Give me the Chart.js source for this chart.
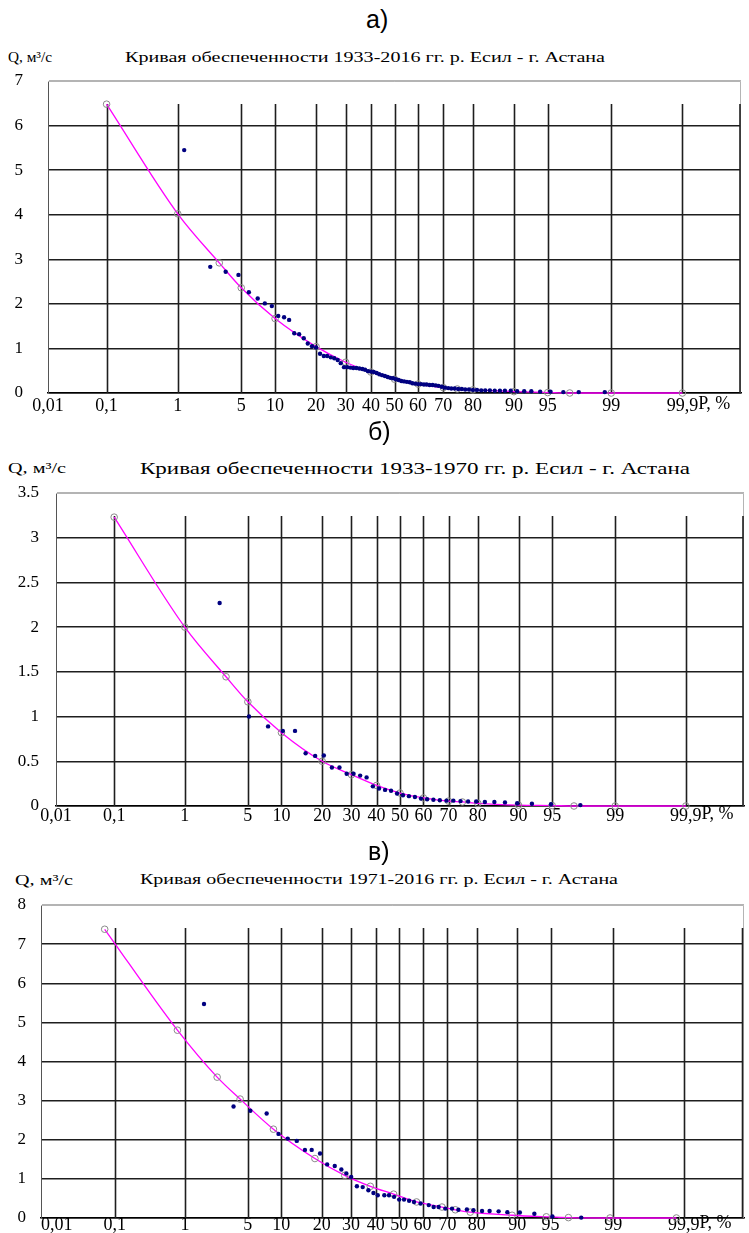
<!DOCTYPE html>
<html lang="ru">
<head>
<meta charset="UTF-8">
<title>Кривые обеспеченности р. Есил - г. Астана</title>
<script src="https://cdn.jsdelivr.net/npm/chart.js"></script>
<style>
  body {
    margin: 0;
    background: #fff;
    width: 749px;
    height: 1233px;
    position: relative;
    overflow: hidden;
    font-family: "Liberation Serif", "Times New Roman", serif;
    color: #000;
  }
  .box { position: absolute; left: 0; width: 749px; }
  .box canvas { display: block; }
  .lbl { position: absolute; white-space: nowrap; transform-origin: left center; line-height: 1; }
  .part {
    position: absolute;
    font-family: "Liberation Sans Narrow", "Liberation Sans", Arial, sans-serif;
    font-size: 25px;
    line-height: 1;
  }
</style>
</head>
<body>
  <div class="part" style="left:366px; top:7px;">а)</div>
  <div class="lbl" data-w="44" style="left:8px; top:51px; font-size:14px;">Q, м³/с</div>
  <div class="lbl" data-w="480" style="left:125px; top:51px; font-size:14px;">Кривая обеспеченности 1933-2016 гг. р. Есил - г. Астана</div>
  <div class="box" style="top:60px; height:360px;"><canvas id="chartA" width="749" height="360"></canvas></div>

  <div class="part" style="left:368px; top:419px;">б)</div>
  <div class="lbl" data-w="58" style="left:8px; top:461px; font-size:15px;">Q, м³/с</div>
  <div class="lbl" data-w="550" style="left:140px; top:460px; font-size:17px;">Кривая обеспеченности 1933-1970 гг. р. Есил - г. Астана</div>
  <div class="box" style="top:480px; height:350px;"><canvas id="chartB" width="749" height="350"></canvas></div>

  <div class="part" style="left:368px; top:839px;">в)</div>
  <div class="lbl" data-w="58" style="left:15px; top:873px; font-size:15px;">Q, м³/с</div>
  <div class="lbl" data-w="478" style="left:140px; top:872px; font-size:15px;">Кривая обеспеченности 1971-2016 гг. р. Есил - г. Астана</div>
  <div class="box" style="top:893px; height:340px;"><canvas id="chartC" width="749" height="340"></canvas></div>

<script>
  // --- шкала клетчатки вероятностей ---
  const tickP = [0.01, 0.1, 1, 5, 10, 20, 30, 40, 50, 60, 70, 80, 90, 95, 99, 99.9];
  const tickText = ['0,01', '0,1', '1', '5', '10', '20', '30', '40', '50', '60', '70', '80', '90', '95', '99', '99,9'];
  const gridP = [0.1, 1, 5, 10, 20, 30, 40, 50, 60, 70, 80, 90, 95, 99, 99.9, 99.99];

  // --- а) 1933-2016 ---
  const obsPA = [1.2, 2.4, 3.5, 4.7, 5.9, 7.1, 8.2, 9.4, 10.6, 11.8, 12.9, 14.1, 15.3, 16.5, 17.6, 18.8, 20.0, 21.2, 22.4, 23.5,
    24.7, 25.9, 27.1, 28.2, 29.4, 30.6, 31.8, 32.9, 34.1, 35.3, 36.5, 37.6, 38.8, 40.0, 41.2, 42.4, 43.5, 44.7, 45.9, 47.1,
    48.2, 49.4, 50.6, 51.8, 52.9, 54.1, 55.3, 56.5, 57.6, 58.8, 60.0, 61.2, 62.4, 63.5, 64.7, 65.9, 67.1, 68.2, 69.4, 70.6,
    71.8, 72.9, 74.1, 75.3, 76.5, 77.6, 78.8, 80.0, 81.2, 82.4, 83.5, 84.7, 85.9, 87.1, 88.2, 89.4, 90.6, 91.8, 92.9, 94.1,
    95.3, 96.5, 97.6, 98.8];
  const obsQA = [5.45, 2.83, 2.72, 2.65, 2.26, 2.12, 2.01, 1.95, 1.73, 1.70, 1.64, 1.34, 1.32, 1.23, 1.11, 1.05, 1.02, 0.88, 0.83, 0.83,
    0.80, 0.78, 0.74, 0.67, 0.58, 0.58, 0.57, 0.56, 0.56, 0.55, 0.54, 0.52, 0.49, 0.48, 0.47, 0.45, 0.42, 0.40, 0.38, 0.36,
    0.34, 0.33, 0.31, 0.29, 0.27, 0.26, 0.25, 0.24, 0.22, 0.21, 0.20, 0.20, 0.19, 0.19, 0.18, 0.18, 0.17, 0.16, 0.14, 0.12,
    0.11, 0.10, 0.10, 0.09, 0.09, 0.08, 0.08, 0.07, 0.07, 0.06, 0.06, 0.06, 0.05, 0.05, 0.05, 0.05, 0.04, 0.04, 0.04, 0.03,
    0.03, 0.02, 0.02, 0.02];
  const fitPA = [0.1, 1, 3, 5, 10, 20, 30, 40, 50, 60, 70, 75, 80, 90, 95, 97, 99, 99.9];
  const fitQA = [6.48, 4.02, 2.92, 2.36, 1.67, 1.04, 0.69, 0.47, 0.31, 0.20, 0.12, 0.09, 0.07, 0.03, 0.01, 0.0, 0.0, 0.0];

  // --- б) 1933-1970 ---
  const obsPB = [2.56, 5.13, 7.69, 10.26, 12.82, 15.38, 17.95, 20.51, 23.08, 25.64, 28.21, 30.77, 33.33, 35.9, 38.46, 41.03,
    43.59, 46.15, 48.72, 51.28, 53.85, 56.41, 58.97, 61.54, 64.1, 66.67, 69.23, 71.79, 74.36, 76.92, 79.49, 82.05, 84.62,
    87.18, 89.74, 92.31, 94.87, 97.44];
  const obsQB = [2.27, 1.0, 0.89, 0.84, 0.84, 0.59, 0.56, 0.565, 0.43, 0.43, 0.36, 0.36, 0.34, 0.32, 0.22, 0.195,
    0.18, 0.17, 0.14, 0.12, 0.11, 0.10, 0.083, 0.075, 0.07, 0.065, 0.06, 0.06, 0.055, 0.05, 0.05, 0.045, 0.045,
    0.04, 0.03, 0.025, 0.02, 0.01];
  const fitPB = [0.1, 1, 3, 5, 10, 20, 30, 40, 50, 60, 70, 75, 80, 90, 95, 97, 99, 99.9];
  const fitQB = [3.23, 2.0, 1.445, 1.165, 0.82, 0.50, 0.35, 0.23, 0.145, 0.09, 0.055, 0.045, 0.03, 0.01, 0.005, 0.0, 0.0, 0.0];

  // --- в) 1971-2016 ---
  const obsPC = [1.7, 3.6, 5.3, 7.5, 9.5, 11.3, 13.3, 15.3, 17.1, 19.5, 21.7, 24.2, 26.5, 28.3, 30.1, 32.3, 34.6, 36.9, 39.0,
    40.8, 43.6, 45.6, 47.8, 50.0, 52.1, 54.3, 56.4, 59.2, 62.6, 64.6, 66.6, 69.2, 71.7, 74.0, 76.9, 79.0, 81.6, 83.7, 86.0,
    88.0, 90.5, 92.9, 95.2, 97.6];
  const obsQC = [5.47, 2.85, 2.74, 2.67, 2.15, 2.03, 1.97, 1.74, 1.74, 1.65, 1.37, 1.33, 1.24, 1.14, 1.05, 0.81, 0.79, 0.71, 0.64,
    0.58, 0.58, 0.58, 0.54, 0.47, 0.47, 0.44, 0.41, 0.37, 0.33, 0.28, 0.28, 0.24, 0.24, 0.21, 0.22, 0.20, 0.18, 0.18, 0.17,
    0.15, 0.14, 0.11, 0.04, 0.01];
  const fitPC = [0.069, 0.8, 2.4, 4.2, 8.6, 18, 27.7, 37.7, 47.6, 57.5, 67.9, 72.9, 78, 89, 94.5, 96.7, 98.9, 99.87];
  const fitQC = [7.38, 4.80, 3.60, 3.04, 2.27, 1.52, 1.09, 0.81, 0.61, 0.41, 0.28, 0.21, 0.15, 0.07, 0.03, 0.01, 0.0, 0.0];

  const serif = "'Liberation Serif', 'Times New Roman', serif";

  // обратная функция нормального распределения (Acklam)
  function probit(p) {
    const a = [-39.69683028665376, 220.9460984245205, -275.9285104469687, 138.3577518672690, -30.66479806614716, 2.506628277459239];
    const b = [-54.47609879822406, 161.5858368580409, -155.6989798598866, 66.80131188771972, -13.28068155288572];
    const c = [-0.007784894002430293, -0.3223964580411365, -2.400758277161838, -2.549732539343734, 4.374664141464968, 2.938163982698783];
    const d = [0.007784695709041462, 0.3224671290700398, 2.445134137142996, 3.754408661907416];
    const lo = 0.02425;
    if (p < lo) {
      const q = Math.sqrt(-2 * Math.log(p));
      return (((((c[0]*q + c[1])*q + c[2])*q + c[3])*q + c[4])*q + c[5]) / ((((d[0]*q + d[1])*q + d[2])*q + d[3])*q + 1);
    }
    if (p > 1 - lo) {
      const q = Math.sqrt(-2 * Math.log(1 - p));
      return -(((((c[0]*q + c[1])*q + c[2])*q + c[3])*q + c[4])*q + c[5]) / ((((d[0]*q + d[1])*q + d[2])*q + d[3])*q + 1);
    }
    const q = p - 0.5, r = q * q;
    return (((((a[0]*r + a[1])*r + a[2])*r + a[3])*r + a[4])*r + a[5]) * q /
           (((((b[0]*r + b[1])*r + b[2])*r + b[3])*r + b[4])*r + 1);
  }
  const z = p => probit(p / 100);
  const pts = (ps, qs) => ps.map((p, i) => ({ x: z(p), y: qs[i] }));

  // оси не должны сдвигать поле графика из-за крайних подписей
  const noPad = s => { s.paddingTop = 0; s.paddingBottom = 0; s.paddingLeft = 0; s.paddingRight = 0; };

  // вертикальные линии клетчатки (не доходят до верхней рамки) и подпись оси
  const probGrid = {
    id: 'probGrid',
    beforeDatasetsDraw(chart) {
      const { ctx, chartArea: ar, scales: { x } } = chart;
      ctx.save();
      ctx.strokeStyle = '#b4b4b4';
      ctx.lineWidth = 1;
      ctx.beginPath();
      ctx.moveTo(ar.left, ar.top + 0.5);
      ctx.lineTo(ar.right - 0.5, ar.top + 0.5);
      ctx.lineTo(ar.right - 0.5, ar.bottom);
      ctx.stroke();
      ctx.strokeStyle = '#1e1e1e';
      ctx.lineWidth = 1.6;
      gridP.forEach(p => {
        const px = Math.min(Math.round(x.getPixelForValue(z(p))) + 0.5, ar.right - 1);
        ctx.beginPath();
        ctx.moveTo(px, ar.top + 23);
        ctx.lineTo(px, ar.bottom);
        ctx.stroke();
      });
      ctx.restore();
    },
    afterDraw(chart, args, opts) {
      const { ctx, scales: { x } } = chart;
      ctx.save();
      ctx.font = '18px ' + serif;
      ctx.fillStyle = '#000';
      ctx.textBaseline = 'top';
      const px = x.getPixelForValue(z(99.9)) + ctx.measureText('99,9').width / 2;
      ctx.fillText('P, %', px, x.top + opts.pad);
      ctx.restore();
    }
  };

  function makeChart(id, cfg) {
    return new Chart(document.getElementById(id), {
      type: 'scatter',
      data: {
        datasets: [
          {
            data: pts(cfg.obsP, cfg.obsQ),
            pointRadius: 2.2,
            pointBackgroundColor: '#000080',
            pointBorderWidth: 0,
            clip: false
          },
          {
            data: pts(cfg.fitP, cfg.fitQ),
            showLine: true,
            borderColor: '#ff00ff',
            borderWidth: 1.3,
            cubicInterpolationMode: 'monotone',
            pointRadius: 3.3,
            pointBorderColor: '#8a8a8a',
            pointBorderWidth: 1,
            pointBackgroundColor: 'rgba(255,255,255,0)',
            clip: false
          }
        ]
      },
      options: {
        responsive: false,
        animation: false,
        layout: { padding: { left: 0, right: cfg.right, top: cfg.top, bottom: 0 } },
        plugins: {
          legend: { display: false },
          tooltip: { enabled: false },
          probGrid: { pad: cfg.xPad }
        },
        scales: {
          x: {
            type: 'linear',
            min: z(cfg.xMin),
            max: z(cfg.xMax),
            afterBuildTicks: s => { s.ticks = tickP.map(p => ({ value: z(p) })); },
            afterFit: s => { s.height = cfg.xH; noPad(s); },
            grid: { display: false, drawTicks: false },
            border: { color: '#000', width: 1.6 },
            ticks: {
              autoSkip: false,
              maxRotation: 0,
              padding: cfg.xPad,
              color: '#000',
              font: { family: serif, size: 18 },
              callback: (v, i) => tickText[i]
            }
          },
          y: {
            min: 0,
            max: cfg.yMax,
            afterFit: s => { s.width = cfg.yW; noPad(s); },
            grid: {
              drawTicks: false,
              lineWidth: 1.5,
              color: c => (c.tick && c.tick.value === cfg.yMax ? '#b4b4b4' : '#1e1e1e')
            },
            border: { color: '#555', width: 1 },
            ticks: {
              stepSize: cfg.yStep,
              padding: cfg.yPad,
              color: '#000',
              font: { family: serif, size: cfg.yFont },
              callback: v => String(v)
            }
          }
        }
      },
      plugins: [probGrid]
    });
  }

  function drawAll() {
    makeChart('chartA', {
      obsP: obsPA, obsQ: obsQA, fitP: fitPA, fitQ: fitQA,
      xMin: 0.01, xMax: 99.99, yMax: 7, yStep: 1,
      top: 21, right: 8, xH: 27, yW: 48, xPad: 2, yPad: 25, yFont: 17
    });
    makeChart('chartB', {
      obsP: obsPB, obsQ: obsQB, fitP: fitPB, fitQ: fitQB,
      xMin: 0.01, xMax: 99.99, yMax: 3.5, yStep: 0.5,
      top: 13, right: 2, xH: 24, yW: 56, xPad: -1, yPad: 17, yFont: 17
    });
    makeChart('chartC', {
      obsP: obsPC, obsQ: obsQC, fitP: fitPC, fitQ: fitQC,
      xMin: 0.005, xMax: 99.991, yMax: 8, yStep: 1,
      top: 12, right: 0, xH: 15, yW: 41, xPad: -4, yPad: 15, yFont: 17
    });
  }

  // подписи растягиваются до нужной ширины
  document.querySelectorAll('.lbl').forEach(el => {
    const w = el.getBoundingClientRect().width;
    el.style.transform = 'scaleX(' + (Number(el.dataset.w) / w) + ')';
  });

  document.fonts.load("16px 'Liberation Serif'").then(drawAll, drawAll);
</script>
</body>
</html>
